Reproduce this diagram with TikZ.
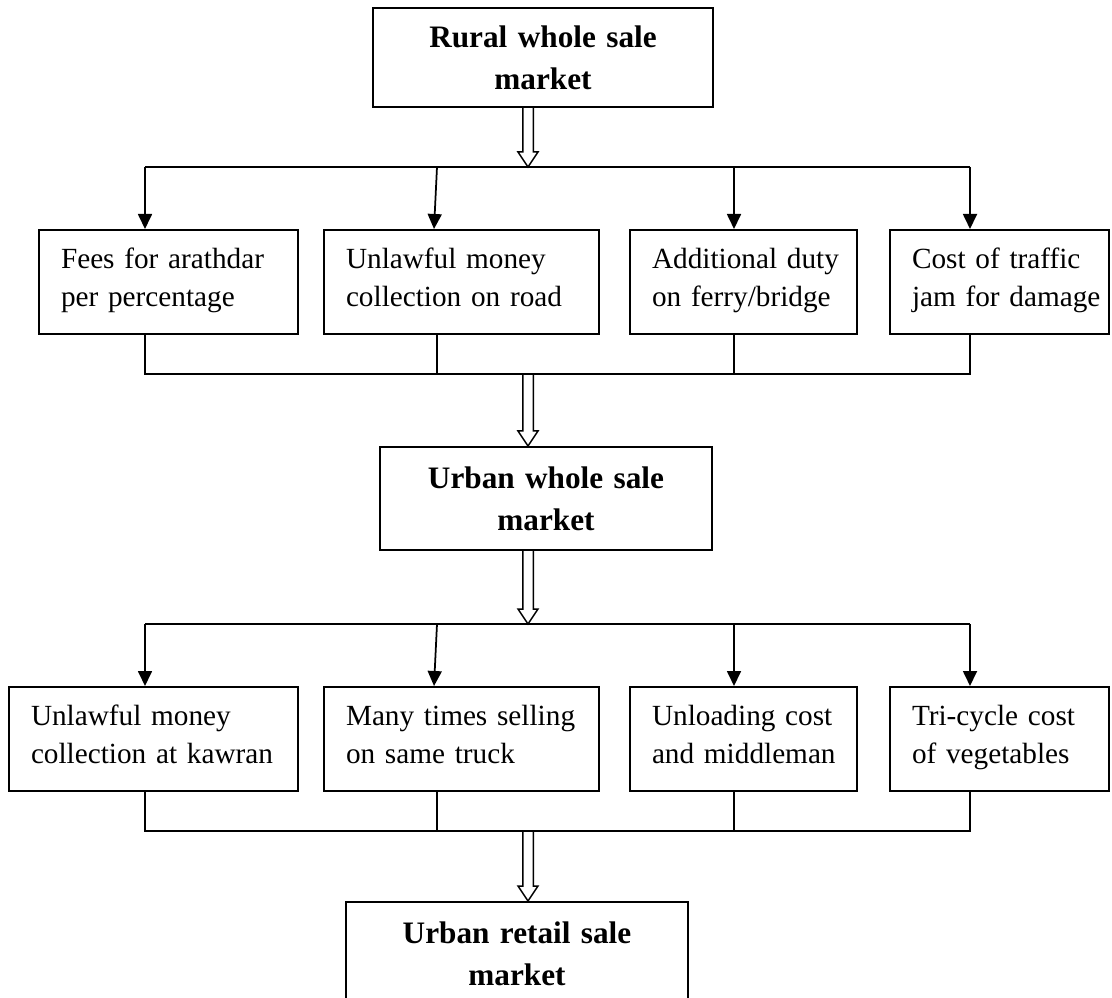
\documentclass[tikz,border=0pt]{standalone}
\usepackage{fontspec}
\setmainfont{Liberation Serif}
\usetikzlibrary{arrows.meta,calc}
\newdimen\pxu \pxu=0.4pt
\newcommand{\costfont}{\fontsize{11.7pt}{15.2pt}\selectfont}
\newcommand{\marketfont}{\fontsize{12.5pt}{16.8pt}\selectfont\bfseries}
\tikzset{market/.style={draw, line width=0.8pt, text width=#1, inner xsep=0pt,
                inner ysep=0pt, align=center, font=\marketfont},
         cost/.style={draw, line width=0.8pt, text width=#1, inner xsep=0pt,
                inner ysep=0pt, minimum height=104*\pxu, align=left, font=\costfont,
                execute at begin node={\leftskip=22\pxu\strut},
                execute at end node={\rule[-6.6pt]{0pt}{0pt}}},
         link/.style={line width=0.7pt},
         feed/.style={line width=0.7pt, -{Triangle[width=5.6pt,length=6pt]}},
         hollow/.style={line width=0.6pt, to path={
                let \p1=(\tikztostart), \p2=(\tikztotarget) in
                (\x1-2.1pt,\y1) -- (\x1-2.1pt,\y2+6pt) -- (\x1-4pt,\y2+6pt)
                -- (\x1,\y2) -- (\x1+4pt,\y2+6pt) -- (\x1+2.1pt,\y2+6pt)
                -- (\x1+2.1pt,\y1)}}}

\begin{document}
\begin{tikzpicture}[x=0.4pt, y=-0.4pt]
                \path[use as bounding box, clip] (0,0) rectangle (1112,998);

                % markets
                \node[market=340*\pxu, minimum height=99*\pxu] (rural) at (543,57.5) {Rural whole sale\\market};
                \node[market=332*\pxu, minimum height=103*\pxu] (urban) at (546,498.5) {Urban whole sale\\market};
                \node[market=342*\pxu, minimum height=103*\pxu] (retail) at (517,953.5) {Urban retail sale\\market};

                % costs rural -> urban
                \node[cost=259*\pxu] (fees) at (168.5,282) {Fees for arathdar\\per percentage};
                \node[cost=275*\pxu] (road) at (461.5,282) {Unlawful money\\collection on road};
                \node[cost=227*\pxu] (ferry) at (743.5,282) {Additional duty\\on ferry/bridge};
                \node[cost=219*\pxu] (jam) at (999.5,282) {Cost of traffic\\jam for damage};

                % costs urban -> retail
                \node[cost=289*\pxu] (kawran) at (153.5,739) {Unlawful money\\collection at kawran};
                \node[cost=275*\pxu] (truck) at (461.5,739) {Many times selling\\on same truck};
                \node[cost=227*\pxu] (middle) at (743.5,739) {Unloading cost\\and middleman};
                \node[cost=219*\pxu] (tricycle) at (999.5,739) {Tri-cycle cost\\of vegetables};

                \coordinate (hx) at (528,0);
                \coordinate (a1) at (145,167);
                \coordinate (a2) at (437,167);
                \coordinate (a3) at (734,167);
                \coordinate (a4) at (970,167);
                \coordinate (b1) at (145,374);
                \coordinate (b4) at (970,374);
                \coordinate (c1) at (145,624);
                \coordinate (c4) at (970,624);
                \coordinate (d1) at (145,831);
                \coordinate (d4) at (970,831);

                \draw[link] (a1) -- (a4);
                \draw[feed] (a1) -- (a1 |- fees.north);
                \draw[feed] (a2) -- ($(a2 |- road.north)+(-3,0)$);
                \draw[feed] (a3) -- (a3 |- ferry.north);
                \draw[feed] (a4) -- (a4 |- jam.north);
                \draw[link] (fees.south -| b1) -- (b1) -- (b4) -- (jam.south -| b4);
                \draw[link] (road.south -| a2) -- (a2 |- b1);
                \draw[link] (ferry.south -| a3) -- (a3 |- b1);

                \draw[link] (c1) -- (c4);
                \draw[feed] (c1) -- (c1 |- kawran.north);
                \draw[feed] (a2 |- c1) -- ($(a2 |- truck.north)+(-3,0)$);
                \draw[feed] (a3 |- c1) -- (a3 |- middle.north);
                \draw[feed] (c4) -- (c4 |- tricycle.north);
                \draw[link] (kawran.south -| d1) -- (d1) -- (d4) -- (tricycle.south -| d4);
                \draw[link] (truck.south -| a2) -- (a2 |- d1);
                \draw[link] (middle.south -| a3) -- (a3 |- d1);

                \draw[hollow] (rural.south -| hx) to (a1 -| hx);
                \draw[hollow] (b1 -| hx) to (urban.north -| hx);
                \draw[hollow] (urban.south -| hx) to (c1 -| hx);
                \draw[hollow] (d1 -| hx) to (retail.north -| hx);
\end{tikzpicture}
\end{document}
